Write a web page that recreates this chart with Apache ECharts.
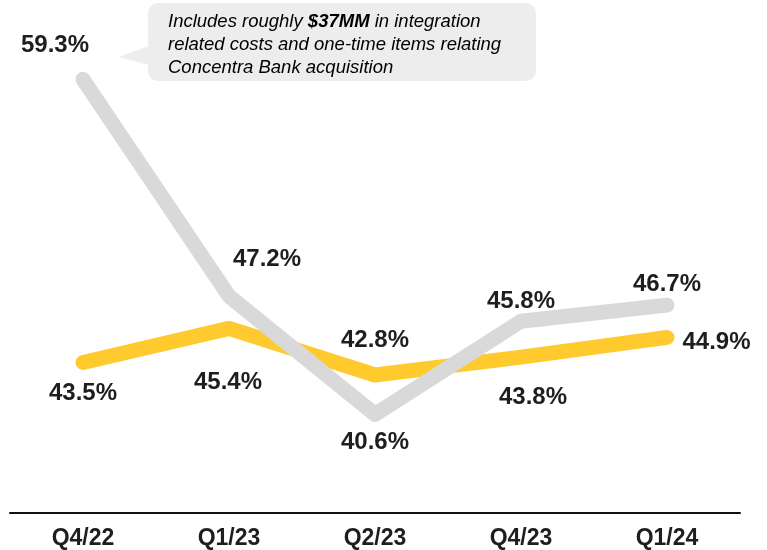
<!DOCTYPE html>
<html>
<head>
<meta charset="utf-8">
<script src="https://cdn.jsdelivr.net/npm/echarts@6/dist/echarts.min.js"></script>
<style>
  html, body { margin: 0; padding: 0; background: #fff; }
  #chart { width: 767px; height: 550px; }
</style>
</head>
<body>
<div id="chart"></div>
<script>
var quarters = ['Q4/22', 'Q1/23', 'Q2/23', 'Q4/23', 'Q1/24'];
var grayValues = [59.3, 47.2, 40.6, 45.8, 46.7];
var yellowValues = [43.5, 45.4, 42.8, 43.8, 44.9];

var grayColor = '#d9d9d9';
var yellowColor = '#ffca2e';

// label placement per point (offsets in px)
var grayLabelPos = [
  {position: 'top', offset: [-28, -16]},
  {position: 'top', offset: [38, -19]},
  {position: 'bottom', offset: [0, 10]},
  {position: 'top', offset: [0, -2]},
  {position: 'top', offset: [0, -3]}
];
var yellowLabelPos = [
  {position: 'bottom', offset: [0, 13]},
  {position: 'bottom', offset: [-1, 36]},
  {position: 'top', offset: [0, -17]},
  {position: 'bottom', offset: [12, 23]},
  {position: 'right', offset: [10, 5]}
];

function buildData(values, pos) {
  return values.map(function (v, i) {
    return {value: v, label: pos[i]};
  });
}

var labelStyle = {
  show: true,
  fontFamily: 'Liberation Sans, Arial, sans-serif',
  fontWeight: 'bold',
  fontSize: 24,
  color: '#1e1e1e',
  formatter: function (p) { return p.value.toFixed(1) + '%'; }
};

var chart = echarts.init(document.getElementById('chart'));
chart.setOption({
  animation: false,
  grid: {left: 10, right: 27, top: 65, bottom: 37},
  xAxis: {
    type: 'category',
    data: quarters,
    axisTick: {show: false},
    axisLine: {lineStyle: {color: '#111', width: 2}},
    axisLabel: {
      margin: 14,
      fontFamily: 'Liberation Sans, Arial, sans-serif',
      fontWeight: 'bold',
      fontSize: 23,
      color: '#1e1e1e'
    }
  },
  yAxis: {
    type: 'value',
    min: 35.1,
    max: 60.1,
    show: false,
    splitLine: {show: false}
  },
  series: [
    {
      name: 'yellow',
      type: 'line',
      data: buildData(yellowValues, yellowLabelPos),
      showSymbol: true,
      symbol: 'circle',
      symbolSize: 1,
      itemStyle: {color: 'transparent', borderWidth: 0},
      lineStyle: {color: yellowColor, width: 15, cap: 'round', join: 'round'},
      label: labelStyle,
      z: 2
    },
    {
      name: 'gray',
      type: 'line',
      data: buildData(grayValues, grayLabelPos),
      showSymbol: true,
      symbol: 'circle',
      symbolSize: 1,
      itemStyle: {color: 'transparent', borderWidth: 0},
      lineStyle: {color: grayColor, width: 15, cap: 'round', join: 'round'},
      label: labelStyle,
      z: 3
    }
  ],
  graphic: [
    {
      type: 'polygon',
      shape: {points: [[119, 57], [160, 42], [160, 68]]},
      style: {fill: '#ededed'},
      z: 10
    },
    {
      type: 'rect',
      shape: {x: 148, y: 3, width: 388, height: 78, r: 10},
      style: {fill: '#ededed'},
      z: 10
    },
    {
      type: 'text',
      left: 168,
      top: 12,
      z: 11,
      style: {
        text: '{i|Includes roughly }{b|$37MM}{i| in integration}\n{i|related costs and one-time items relating}\n{i|Concentra Bank acquisition}',
        rich: {
          i: {fontFamily: 'Liberation Sans, Arial, sans-serif', fontStyle: 'italic', fontSize: 18.5, color: '#333', lineHeight: 23},
          b: {fontFamily: 'Liberation Sans, Arial, sans-serif', fontStyle: 'italic', fontWeight: 'bold', fontSize: 18.5, color: '#333', lineHeight: 23}
        }
      }
    }
  ]
});
</script>
</body>
</html>
